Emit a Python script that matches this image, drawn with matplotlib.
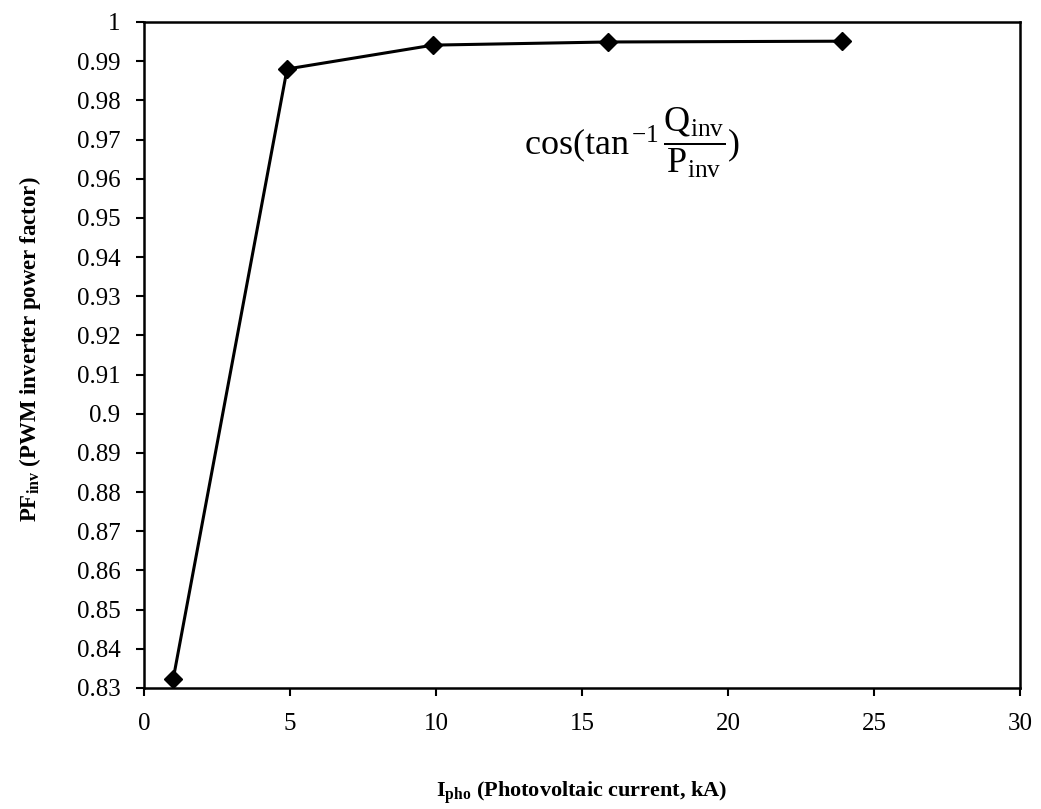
import matplotlib
matplotlib.use("Agg")
import matplotlib.pyplot as plt
import numpy as np

plt.rcParams['font.family'] = ['Liberation Serif', 'DejaVu Serif']
plt.rcParams['mathtext.fontset'] = 'custom'
plt.rcParams['mathtext.rm'] = 'Liberation Serif'
plt.rcParams['mathtext.it'] = 'Liberation Serif:italic'
plt.rcParams['mathtext.bf'] = 'Liberation Serif:bold'

current_kA = [1, 4.9, 9.9, 15.9, 23.9]
power_factor = [0.8323, 0.988, 0.9941, 0.9949, 0.9951]
x_ticks = [0, 5, 10, 15, 20, 25, 30]
y_ticks = [0.83, 0.84, 0.85, 0.86, 0.87, 0.88, 0.89, 0.9, 0.91, 0.92, 0.93,
           0.94, 0.95, 0.96, 0.97, 0.98, 0.99, 1.0]
y_tick_labels = ['0.83', '0.84', '0.85', '0.86', '0.87', '0.88', '0.89', '0.9',
                 '0.91', '0.92', '0.93', '0.94', '0.95', '0.96', '0.97', '0.98',
                 '0.99', '1']

fig = plt.figure(figsize=(10.41, 8.09), dpi=100)
ax = fig.add_axes([144/1041, 1 - 688/809, (1020-144)/1041, (688-22)/809])

ax.plot(current_kA, power_factor, color='black', linewidth=2.2,
        marker='D', markersize=9, markerfacecolor='black', markeredgecolor='black',
        clip_on=False)

ax.set_xlim(0, 30)
ax.set_ylim(0.83, 1.0)
ax.set_xticks(x_ticks)
ax.set_xticklabels([str(t) for t in x_ticks])
ax.set_yticks(y_ticks)
ax.set_yticklabels(y_tick_labels)
ax.tick_params(axis='both', direction='out', length=6, width=1.5, labelsize=18,
               colors='black')
ax.tick_params(axis='x', pad=12)
ax.tick_params(axis='y', pad=11)
for s in ax.spines.values():
    s.set_linewidth(1.8)
    s.set_color('black')

ax.text((632-144)/876, (688-143)/666,
        r'$\mathrm{cos(tan}^{\,\mathrm{-1}}\,\dfrac{\mathrm{Q}_{\mathrm{inv}}}{\mathrm{P}_{\mathrm{inv}}}\mathrm{)}$',
        transform=ax.transAxes, fontsize=26, ha='center', va='center')

fig.text(582/1041, 1 - 793/809, r'$\mathbf{I}_{\mathbf{pho}}$ (Photovoltaic current, kA)',
         fontsize=16, fontweight='bold', ha='center', va='center')
fig.text(30/1041, 1 - 349/809, r'$\mathbf{PF}_{\mathbf{inv}}$ (PWM inverter power factor)',
         fontsize=16.5, fontweight='bold', ha='center', va='center', rotation=90)

fig.savefig('out.png', dpi=100)
